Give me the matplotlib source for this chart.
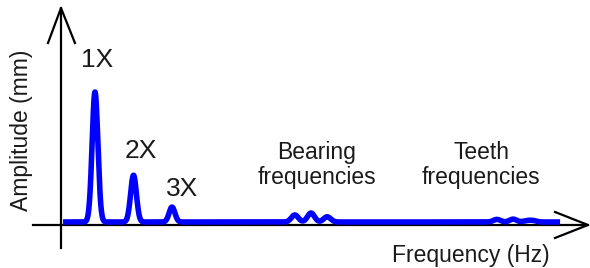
import numpy as np
import matplotlib
matplotlib.use('Agg')
import matplotlib.pyplot as plt

plt.rcParams['font.family'] = ['Liberation Sans', 'DejaVu Sans']

# Peak data: frequency (in orders of running speed) and amplitude (1X = 1)
harmonic_freqs = [1.0, 2.0, 3.0]
harmonic_amps = [1.0, 0.36, 0.115]
harmonic_labels = ['1X', '2X', '3X']

bearing_freqs = [6.19, 6.61, 7.03]
bearing_amps = [0.054, 0.069, 0.040]

teeth_freqs = [11.44, 11.86, 12.22, 12.38]
teeth_amps = [0.020, 0.022, 0.010, 0.010]

f_start, f_end = 0.17, 13.08

# Build the spectrum line from the peaks
f = np.linspace(f_start, f_end, 3000)
amp = np.zeros_like(f)
for fc, a in zip(harmonic_freqs, harmonic_amps):
    amp += a * np.exp(-0.5 * ((f - fc) / 0.075) ** 2)
for fc, a in zip(bearing_freqs + teeth_freqs, bearing_amps + teeth_amps):
    amp += a * np.exp(-0.5 * ((f - fc) / 0.09) ** 2)

fig = plt.figure(figsize=(5.9, 2.68), dpi=100)
ax = fig.add_axes([0, 0, 1, 1])
ax.set_xlim(-1.4675, 13.857)
ax.set_ylim(-0.354, 1.708)
ax.axis('off')

# axes with open arrow heads
ax.plot([0.117, 0.117], [-0.2, 1.646], color='black', lw=1.6, zorder=1)
ax.plot([-0.221, 0.117, 0.48], [1.377, 1.646, 1.377], color='black', lw=1.6,
        zorder=1, solid_joinstyle='miter')
ax.plot([-0.62, 13.805], [-0.023, -0.023], color='black', lw=1.6, zorder=1)
ax.plot([12.948, 13.805, 12.948], [0.077, -0.023, -0.123], color='black', lw=1.6,
        zorder=1, solid_joinstyle='miter')

ax.plot(f, amp, color='#0000ff', lw=4, solid_capstyle='butt', zorder=2)

txt = '#1a1a1a'
label_pos = [(1.052, 1.246), (2.195, 0.546), (3.27, 0.254)]
for lab, (x, y) in zip(harmonic_labels, label_pos):
    ax.text(x, y, lab, fontsize=19, color=txt, ha='center', va='center')

ax.text(6.766, 0.438, 'Bearing\nfrequencies', fontsize=16.5, color=txt,
        ha='center', va='center', linespacing=1.15)
ax.text(11.026, 0.438, 'Teeth\nfrequencies', fontsize=16.5, color=txt,
        ha='center', va='center', linespacing=1.15)
ax.text(10.766, -0.254, 'Frequency (Hz)', fontsize=16.5, color=txt,
        ha='center', va='center')
ax.text(-0.922, 0.708, 'Amplitude (mm)', fontsize=16.5, color=txt,
        ha='center', va='center', rotation=90)

fig.savefig('out.png', dpi=100)
